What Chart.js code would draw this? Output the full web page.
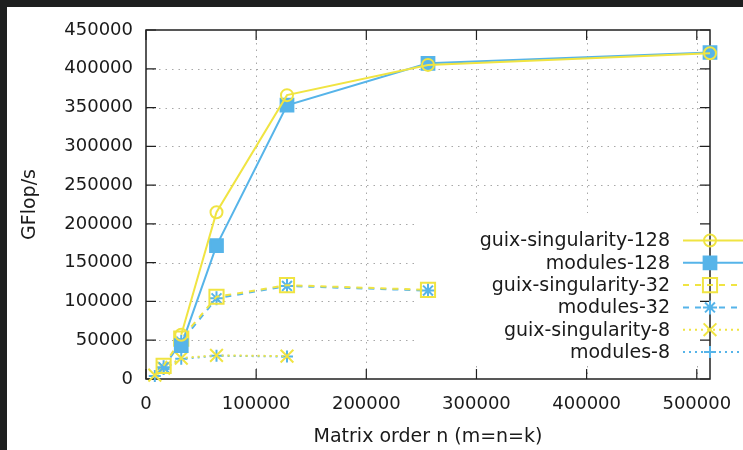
<!DOCTYPE html>
<html>
<head>
<meta charset="utf-8">
<script src="https://cdn.jsdelivr.net/npm/chart.js@4"></script>
<style>
  html, body { margin: 0; padding: 0; background: #1e1f1f; }
  canvas { display: block; }
</style>
</head>
<body>
<canvas id="chart" width="743" height="450"></canvas>
<script>
// GFlop/s vs matrix order, 3 node counts x 2 setups
const xTicks = [0, 100000, 200000, 300000, 400000, 500000];
const yTicks = [0, 50000, 100000, 150000, 200000, 250000, 300000, 350000, 400000, 450000];

const n128 = [32000, 64000, 128000, 256000, 512000];
const guix128 = [57000, 215000, 366000, 405000, 420000];
const modules128 = [43000, 172000, 353000, 407000, 421000];

const n32 = [16000, 32000, 64000, 128000, 256000];
const guix32 = [17000, 52000, 106000, 121000, 115000];
const modules32 = [15000, 48000, 104000, 120000, 114000];

const n8 = [8000, 16000, 32000, 64000, 128000];
const guix8 = [5000, 14000, 27000, 30500, 29500];
const modules8 = [4000, 13000, 26000, 30000, 29000];

const labels = [
  "guix-singularity-128", "modules-128",
  "guix-singularity-32", "modules-32",
  "guix-singularity-8", "modules-8",
];

const YELLOW = "#f0e442";
const BLUE = "#56b4e9";
const TEXT = "#1a1a1a";
const FONT = "DejaVu Sans";

const pts = (xs, ys) => xs.map((x, i) => ({ x: x, y: ys[i] }));

function series(label, data, color, dash, style, radius, filled) {
  return {
    label: label,
    data: data,
    borderColor: color,
    backgroundColor: color,
    borderWidth: 2,
    borderDash: dash,
    pointStyle: style,
    pointRadius: radius,
    pointBorderWidth: 2,
    pointBorderColor: color,
    pointBackgroundColor: filled ? color : "rgba(0,0,0,0)",
    pointHoverRadius: radius,
    tension: 0,
    fill: false,
    clip: false,
  };
}

const datasets = [
  series(labels[0], pts(n128, guix128), YELLOW, [], "circle", 6, false),
  series(labels[1], pts(n128, modules128), BLUE, [], "rect", 9, true),
  series(labels[2], pts(n32, guix32), YELLOW, [6, 6], "rect", 10, false),
  series(labels[3], pts(n32, modules32), BLUE, [6, 6], "star", 7, false),
  series(labels[4], pts(n8, guix8), YELLOW, [2, 4], "crossRot", 9, false),
  series(labels[5], pts(n8, modules8), BLUE, [2, 4], "cross", 6, false),
];

// legend box area (no grid drawn inside it)
const keyBox = { left: 415, top: 213, bottom: 366 };

const backgroundPlugin = {
  id: "frame",
  beforeDraw(chart) {
    const ctx = chart.ctx;
    ctx.save();
    ctx.fillStyle = "#1e1f1f";
    ctx.fillRect(0, 0, chart.width, chart.height);
    ctx.fillStyle = "#ffffff";
    ctx.fillRect(7, 7, chart.width - 7, chart.height - 7);
    ctx.restore();
  },
};

const gridPlugin = {
  id: "gnuGrid",
  beforeDatasetsDraw(chart) {
    const { ctx, chartArea: a, scales } = chart;
    ctx.save();
    ctx.strokeStyle = "#a8a8a8";
    ctx.lineWidth = 1;
    ctx.setLineDash([1.5, 5]);
    yTicks.slice(1, -1).forEach((v) => {
      const y = Math.round(scales.y.getPixelForValue(v)) + 0.5;
      ctx.beginPath();
      ctx.moveTo(a.left, y);
      ctx.lineTo(y > keyBox.top && y < keyBox.bottom ? keyBox.left : a.right, y);
      ctx.stroke();
    });
    xTicks.slice(1).forEach((v) => {
      const x = Math.round(scales.x.getPixelForValue(v)) + 0.5;
      ctx.beginPath();
      if (x > keyBox.left) {
        ctx.moveTo(x, a.top);
        ctx.lineTo(x, keyBox.top);
        ctx.moveTo(x, keyBox.bottom);
        ctx.lineTo(x, a.bottom);
      } else {
        ctx.moveTo(x, a.top);
        ctx.lineTo(x, a.bottom);
      }
      ctx.stroke();
    });

    // border + inward ticks on all sides
    ctx.setLineDash([]);
    ctx.strokeStyle = "#202020";
    ctx.lineWidth = 1.5;
    ctx.strokeRect(a.left, a.top, a.right - a.left, a.bottom - a.top);
    ctx.lineWidth = 1.2;
    ctx.beginPath();
    yTicks.forEach((v) => {
      const y = scales.y.getPixelForValue(v);
      ctx.moveTo(a.left, y);
      ctx.lineTo(a.left + 10, y);
      ctx.moveTo(a.right, y);
      ctx.lineTo(a.right - 10, y);
    });
    xTicks.forEach((v) => {
      const x = scales.x.getPixelForValue(v);
      ctx.moveTo(x, a.bottom);
      ctx.lineTo(x, a.bottom - 10);
      ctx.moveTo(x, a.top);
      ctx.lineTo(x, a.top + 10);
    });
    ctx.stroke();
    ctx.restore();
  },
};

const keyPlugin = {
  id: "gnuKey",
  afterDatasetsDraw(chart) {
    const ctx = chart.ctx;
    const textRight = 670;
    const lineFrom = 683;
    const lineTo = 743;
    const markX = 710;
    ctx.save();
    ctx.font = "19px '" + FONT + "'";
    ctx.textAlign = "right";
    ctx.textBaseline = "middle";
    chart.data.datasets.forEach((ds, i) => {
      const y = 240.5 + i * 22.3;
      ctx.fillStyle = TEXT;
      ctx.fillText(ds.label, textRight, y + 1);
      ctx.strokeStyle = ds.borderColor;
      ctx.lineWidth = 2;
      ctx.setLineDash(ds.borderDash);
      ctx.beginPath();
      ctx.moveTo(lineFrom, y);
      ctx.lineTo(lineTo, y);
      ctx.stroke();
      ctx.setLineDash([]);
      ctx.fillStyle = ds.pointBackgroundColor;
      Chart.helpers.drawPoint(ctx, {
        pointStyle: ds.pointStyle,
        radius: ds.pointRadius,
        rotation: 0,
        borderWidth: 2,
      }, markX, y);
    });
    ctx.restore();
  },
};

new Chart(document.getElementById("chart"), {
  type: "line",
  data: { datasets: datasets },
  plugins: [backgroundPlugin, gridPlugin, keyPlugin],
  options: {
    responsive: false,
    animation: false,
    devicePixelRatio: 1,
    layout: { padding: { left: 0, top: 30, right: 33, bottom: 0 } },
    plugins: { legend: { display: false }, tooltip: { enabled: false } },
    scales: {
      x: {
        type: "linear",
        min: 0,
        max: 512000,
        afterBuildTicks: (scale) => {
          scale.ticks = xTicks.map((v) => ({ value: v }));
        },
        afterFit: (scale) => {
          scale.height = 71;
          scale.paddingLeft = 0;
          scale.paddingRight = 0;
        },
        grid: { display: false, drawTicks: false },
        border: { display: false },
        ticks: {
          color: TEXT,
          font: { family: FONT, size: 18 },
          padding: 15,
          maxRotation: 0,
          autoSkip: false,
          callback: (v) => String(v),
        },
        title: {
          display: true,
          text: "Matrix order n (m=n=k)",
          color: TEXT,
          font: { family: FONT, size: 19 },
          padding: { top: 0, bottom: 2 },
        },
      },
      y: {
        type: "linear",
        min: 0,
        max: 450000,
        afterBuildTicks: (scale) => {
          scale.ticks = yTicks.map((v) => ({ value: v }));
        },
        afterFit: (scale) => {
          scale.width = 146;
          scale.paddingTop = 0;
          scale.paddingBottom = 0;
        },
        grid: { display: false, drawTicks: false },
        border: { display: false },
        ticks: {
          color: TEXT,
          font: { family: FONT, size: 18 },
          padding: 13,
          autoSkip: false,
          callback: (v) => String(v),
        },
        title: {
          display: true,
          text: "GFlop/s",
          color: TEXT,
          font: { family: FONT, size: 19 },
          padding: { top: 19, bottom: 0 },
        },
      },
    },
  },
});
</script>
</body>
</html>
